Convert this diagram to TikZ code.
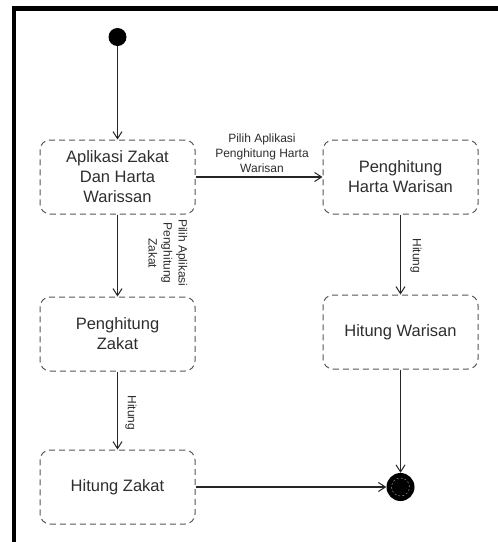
\documentclass[tikz,border=0pt]{standalone}
\usepackage{fontspec}
\setmainfont{Liberation Sans}
\usetikzlibrary{arrows.meta}
\definecolor{txt}{HTML}{2E2E2E}
\definecolor{bord}{HTML}{555555}
\tikzset{
  state/.style={draw=bord, line width=1pt, dash pattern=on 6pt off 4pt, rounded corners=10pt,
    minimum width=155pt, minimum height=74pt, align=center, text=txt,
    font=\fontsize{16.5}{20}\selectfont, inner sep=0pt},
  flow/.style={draw=black!85, line width=1.1pt, -{Straight Barb[length=7pt,width=9pt,line width=1pt]}},
  lbl/.style={text=txt, align=center, font=\fontsize{12}{15}\selectfont, inner sep=0pt},
}
\begin{document}
\begin{tikzpicture}[x=1pt,y=-1pt]
\useasboundingbox (0,0) rectangle (498,542);
\fill[white] (0,0) rectangle (498,542);
% frame
\draw[line width=4.5pt, line cap=rect] (14,542) -- (14,8.5) -- (498,8.5);
% initial
\coordinate (initc) at (117.5,37);
\fill (initc) circle (9pt);
% states
\node[state] (s1) at (117.5,177) {Aplikasi Zakat\\Dan Harta\\Warissan};
\node[state] (s2) at (400.5,177) {Penghitung\\Harta Warisan};
\node[state] (s3) at (117.5,334) {Penghitung\\Zakat};
\node[state] (s4) at (400.5,332) {Hitung Warisan};
\node[state] (s5) at (117.5,487) {Hitung Zakat};
% final
\node[circle, fill=black, minimum size=28pt, inner sep=0pt] (fin) at (400.5,487) {};
\draw[gray!70, line width=0.4pt, dash pattern=on 2pt off 2pt] (fin.center) circle (9pt);
% flows
\draw[flow] (initc) ++(0,9) -- (s1.north);
\draw[flow] (s1.east) -- (s2.west);
\draw[flow] (s1.south) -- (s3.north);
\draw[flow] (s2.south) -- (s4.north);
\draw[flow] (s3.south) -- (s5.north);
\draw[flow] (s4.south) -- (fin.north);
\draw[flow] (s5.east) -- (fin.west);
% labels
\node[lbl] (l1) at (262,153) {Pilih Aplikasi\\Penghitung Harta\\Warisan};
\node[lbl, rotate=-90] (l2) at (168,253) {Pilih Aplikasi\\Penghitung\\Zakat};
\node[lbl, rotate=-90] (l3) at (416,256) {Hitung};
\node[lbl, rotate=-90] (l4) at (131,413) {Hitung};
\end{tikzpicture}
\end{document}
